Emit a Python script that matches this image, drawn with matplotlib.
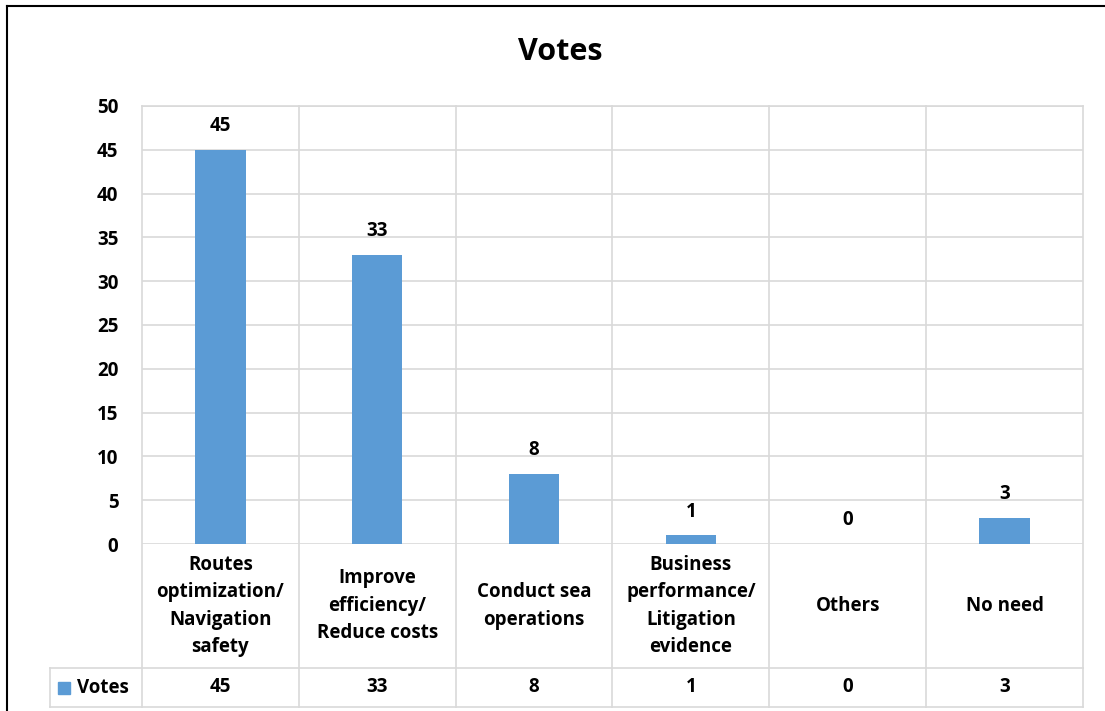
import matplotlib
matplotlib.use("Agg")
import matplotlib.pyplot as plt
from matplotlib.lines import Line2D
from matplotlib.patches import Rectangle

plt.rcParams['font.family'] = ['Open Sans', 'DejaVu Sans']

categories = ["Routes\noptimization/\nNavigation\nsafety",
              "Improve\nefficiency/\nReduce costs",
              "Conduct sea\noperations",
              "Business\nperformance/\nLitigation\nevidence",
              "Others",
              "No need"]
votes = [45, 33, 8, 1, 0, 3]
series_name = "Votes"
yticks = [0, 5, 10, 15, 20, 25, 30, 35, 40, 45, 50]

W, H = 1105, 711
bar_color = "#5B9BD5"
grid_color = "#D9D9D9"
fs = 13.5

fig = plt.figure(figsize=(W / 100, H / 100), dpi=100)

# plot area in pixels
px_left, px_right, px_top, px_zero = 142, 1083, 106, 544
ax = fig.add_axes([px_left / W, 1 - px_zero / H,
                   (px_right - px_left) / W, (px_zero - px_top) / H])

n = len(categories)
xs = list(range(n))
ax.bar(xs, votes, width=0.32, color=bar_color, zorder=3)
ax.set_xlim(-0.5, n - 0.5)
ax.set_ylim(0, 50)
ax.set_yticks(yticks)
ax.set_yticklabels([str(t) for t in yticks], fontsize=fs, fontweight="bold")
ax.tick_params(axis="y", length=0, pad=17)
ax.tick_params(axis="x", length=0, labelbottom=False)
for s in ax.spines.values():
    s.set_visible(False)
ax.grid(axis="y", color=grid_color, linewidth=1.2, zorder=0)

for x, v in zip(xs, votes):
    ax.text(x, v + 2.7, str(v), ha="center", va="center",
            fontsize=fs, fontweight="bold")


def ay(py):
    # pixel y -> axes fraction
    return (px_zero - py) / (px_zero - px_top)


tr = ax.get_xaxis_transform()
row_top, row_bot = 668, 707
lw = 1.2
# vertical grid / table lines
for b in [i - 0.5 for i in range(n + 1)]:
    ax.plot([b, b], [ay(row_bot), 1], transform=tr, color=grid_color,
            lw=lw, clip_on=False, zorder=1)
# top edge of plot area
ax.plot([-0.5, n - 0.5], [1, 1], transform=tr, color=grid_color, lw=lw,
        clip_on=False, zorder=1)
# table horizontal lines
x_tab_left = -0.5 - (px_left - 50) / ((px_right - px_left) / n)
for py in [row_top, row_bot]:
    ax.plot([x_tab_left, n - 0.5], [ay(py), ay(py)], transform=tr,
            color=grid_color, lw=lw, clip_on=False, zorder=1)
ax.plot([x_tab_left, x_tab_left], [ay(row_bot), ay(row_top)], transform=tr,
        color=grid_color, lw=lw, clip_on=False, zorder=1)

# category labels
for x, c in zip(xs, categories):
    ax.text(x, ay((544 + 668) / 2), c, transform=tr, ha="center",
            va="center", fontsize=fs, fontweight="bold", linespacing=1.5)
# values row
for x, v in zip(xs, votes):
    ax.text(x, ay((row_top + row_bot) / 2), str(v), transform=tr,
            ha="center", va="center", fontsize=fs, fontweight="bold")

# legend key in table
fig.add_artist(Rectangle((58 / W, 1 - 694 / H), 12 / W, 12 / H,
                         color=bar_color, transform=fig.transFigure))
fig.text(77 / W, 1 - 688 / H, series_name, ha="left", va="center",
         fontsize=fs, fontweight="bold")

fig.text(560 / W, 1 - 52 / H, "Votes", ha="center", va="center",
         fontsize=22, fontweight="bold")

# outer chart border
fig.add_artist(Line2D([7 / W, 7 / W], [0, 1 - 6 / H], color="black", lw=1.5))
fig.add_artist(Line2D([7 / W, 1], [1 - 6 / H, 1 - 6 / H], color="black", lw=1.5))

fig.savefig("out.png", dpi=100)
